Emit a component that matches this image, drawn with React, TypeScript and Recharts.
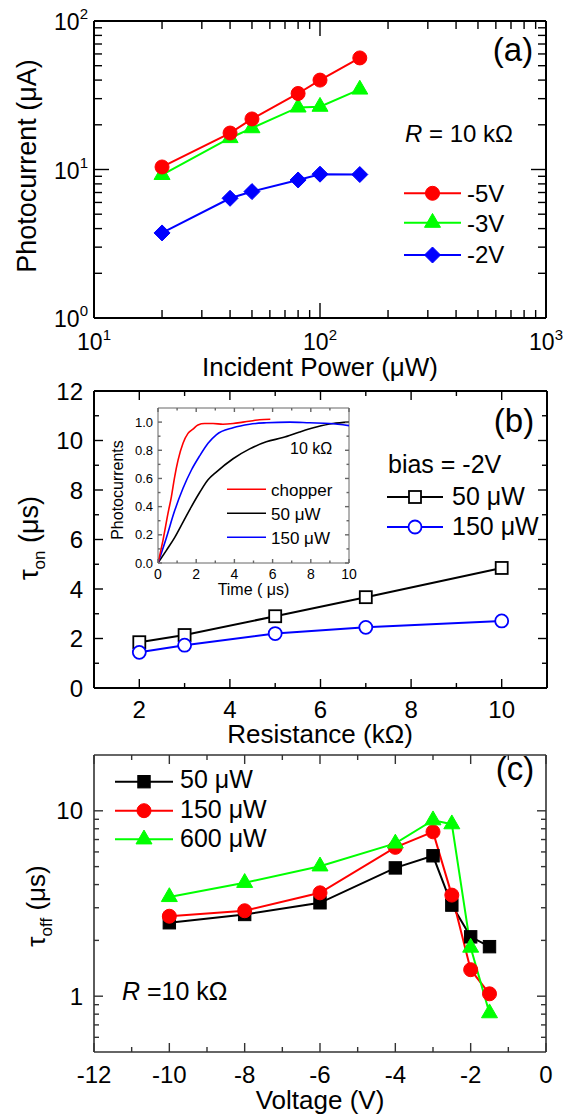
import React from 'react'
import { LineChart, Line, XAxis, YAxis, ReferenceDot, ReferenceLine } from 'recharts'

const FONT = '"Liberation Sans", Arial, Helvetica, sans-serif'
const RED = '#ff0000'
const GREEN = '#00ff00'
const BLUE = '#0000ff'

// (a) photocurrent (uA) vs incident power (uW), R = 10 kOhm
const power = [20, 40, 50, 80, 100, 150]
const i5V = [10.4, 17.6, 21.9, 32.5, 40, 56.4]
const i3V = [9.2, 16.3, 19, 26.2, 26.5, 34.6]
const i2V = [3.74, 6.4, 7.1, 8.5, 9.3, 9.25]
const powerMajor = [10, 100, 1000]
const powerMinor = [20, 30, 40, 50, 60, 70, 80, 90, 200, 300, 400, 500, 600, 700, 800, 900]
const currentMajor = [1, 10, 100]
const currentMinor = [2, 3, 4, 5, 6, 7, 8, 9, 20, 30, 40, 50, 60, 70, 80, 90]

// (b) tau_on (us) vs resistance (kOhm), bias = -2V
const resistance = [2, 3, 5, 7, 10]
const tauOn50 = [1.85, 2.14, 2.9, 3.67, 4.85]
const tauOn150 = [1.44, 1.73, 2.2, 2.45, 2.71]
const resMajor = [2, 4, 6, 8, 10]
const resMinor = [3, 5, 7, 9]
const tauOnMajor = [0, 2, 4, 6, 8, 10, 12]
const tauOnMinor = [1, 3, 5, 7, 9, 11]

// (b) inset: normalised photocurrents vs time (us)
const chopperT = [0, 0.26, 0.52, 0.7, 0.87, 1.05, 1.31, 1.57, 1.83, 2.09, 2.44, 2.88, 3.4, 3.93, 4.45, 4.97, 5.32, 5.88]
const chopperV = [0, 0.16, 0.35, 0.47, 0.61, 0.73, 0.85, 0.92, 0.95, 0.98, 0.99, 0.99, 0.985, 0.99, 1.0, 1.01, 1.017, 1.02]
const p150T = [0, 0.44, 0.87, 1.31, 1.75, 2.18, 2.62, 3.05, 3.93, 4.8, 5.67, 6.9, 7.94, 8.99, 10]
const p150V = [0, 0.18, 0.37, 0.53, 0.66, 0.76, 0.85, 0.91, 0.96, 0.985, 0.995, 1.0, 0.995, 0.99, 0.975]
const p50T = [0, 0.44, 0.87, 1.31, 1.75, 2.18, 2.62, 3.05, 3.93, 4.8, 5.67, 6.54, 7.42, 8.29, 9.16, 10]
const p50V = [0, 0.09, 0.18, 0.29, 0.4, 0.5, 0.59, 0.645, 0.74, 0.81, 0.86, 0.89, 0.93, 0.965, 0.99, 1.0]
const timeMajor = [0, 2, 4, 6, 8, 10]
const timeMinor = [1, 3, 5, 7, 9]
const normMajor = [0, 0.2, 0.4, 0.6, 0.8, 1.0]
const normMinor = [0.1, 0.3, 0.5, 0.7, 0.9]

// (c) tau_off (us) vs voltage (V), R = 10 kOhm
const voltage = [-10, -8, -6, -4, -3, -2.5, -2, -1.5]
const off50 = [2.49, 2.76, 3.19, 4.92, 5.72, 3.1, 2.09, 1.85]
const off150 = [2.7, 2.89, 3.61, 6.35, 7.7, 3.51, 1.39, 1.03]
const off600 = [3.43, 4.09, 5.02, 6.67, 8.9, 8.47, 1.83, 0.81]
const voltMajor = [-12, -10, -8, -6, -4, -2, 0]
const voltMinor = [-11, -9, -7, -5, -3, -1]
const tauOffMajor = [1, 10]
const tauOffMinor = [0.6, 0.7, 0.8, 0.9, 2, 3, 4, 5, 6, 7, 8, 9]

const rowsA = power.map((p, i) => ({ p, m5: i5V[i], m3: i3V[i], m2: i2V[i] }))
const rowsB = resistance.map((r, i) => ({ r, a: tauOn50[i], b: tauOn150[i] }))
const rowsC = voltage.map((v, i) => ({ v, a: off50[i], b: off150[i], c: off600[i] }))
const chopper = chopperT.map((t, i) => ({ t, v: chopperV[i] }))
const trace150 = p150T.map((t, i) => ({ t, v: p150V[i] }))
const trace50 = p50T.map((t, i) => ({ t, v: p50V[i] }))

type Kind = 'circle' | 'square' | 'tri' | 'diamond'

function Marker({ kind, cx, cy, s, color, open }: { kind: Kind; cx: number; cy: number; s: number; color: string; open?: boolean }) {
  const fill = open ? '#fff' : color
  const sw = open ? 1.8 : 1
  if (kind === 'circle') return <circle cx={cx} cy={cy} r={s} fill={fill} stroke={color} strokeWidth={sw} />
  if (kind === 'square') return <rect x={cx - s} y={cy - s} width={2 * s} height={2 * s} fill={fill} stroke={color} strokeWidth={sw} />
  if (kind === 'diamond')
    return <polygon points={`${cx},${cy - s} ${cx + s},${cy} ${cx},${cy + s} ${cx - s},${cy}`} fill={fill} stroke={color} strokeWidth={sw} />
  const h = s * 1.732
  return <polygon points={`${cx},${cy - (2 * h) / 3} ${cx + s},${cy + h / 3} ${cx - s},${cy + h / 3}`} fill={fill} stroke={color} strokeWidth={sw} />
}

const dot = (kind: Kind, s: number, color: string, open?: boolean) => (p: any) =>
  p.cx == null ? <g key={p.index} /> : <Marker key={p.index} kind={kind} cx={p.cx} cy={p.cy} s={s} color={color} open={open} />

const txt = { fontFamily: FONT, fill: '#000' }

type Lbl = (props: any) => React.ReactElement

const powBottom: Lbl = ({ x, y, payload }) => (
  <text x={x} y={y + 32} textAnchor="middle" fontSize={23} {...txt}>
    10<tspan dy={-10} fontSize={15}>{Math.round(Math.log10(payload.value))}</tspan>
  </text>
)
const powLeft: Lbl = ({ x, y, payload }) => (
  <text x={x - 6} y={y + 9} textAnchor="end" fontSize={23} {...txt}>
    10<tspan dy={-11} fontSize={15}>{Math.round(Math.log10(payload.value))}</tspan>
  </text>
)
const numBottom = (size: number, off: number): Lbl => ({ x, y, payload }) => (
  <text x={x} y={y + off} textAnchor="middle" fontSize={size} {...txt}>
    {payload.value}
  </text>
)
const numLeft = (size: number, off: number, fmt?: (v: number) => string): Lbl => ({ x, y, payload }) => (
  <text x={x - off} y={y + size * 0.36} textAnchor="end" fontSize={size} {...txt}>
    {fmt ? fmt(payload.value) : payload.value}
  </text>
)

interface FrameCfg {
  xKey: string
  xDomain: number[]
  xLog?: boolean
  xMajor: number[]
  xMinor: number[]
  xLabel: Lbl
  xHeight: number
  yDomain: number[]
  yLog?: boolean
  yMajor: number[]
  yMinor: number[]
  yLabel: Lbl
  yWidth: number
  majorLen: number
  minorLen: number
  color: string
  frameWidth: number
}

// labelled bottom/left axes; top/right edges of the box as reference lines
function frameAxes(c: FrameCfg) {
  const frame = { stroke: c.color, strokeWidth: c.frameWidth }
  const base = { type: 'number' as const, allowDataOverflow: true, interval: 0 as const, tickLine: false, tickSize: 0, tickMargin: 0, axisLine: frame }
  return [
    <XAxis key="x" xAxisId="x" dataKey={c.xKey} {...base} domain={c.xDomain} scale={c.xLog ? 'log' : 'linear'} ticks={c.xMajor} height={c.xHeight} tick={c.xLabel} />,
    <YAxis key="y" yAxisId="y" {...base} domain={c.yDomain} scale={c.yLog ? 'log' : 'linear'} ticks={c.yMajor} width={c.yWidth} tick={c.yLabel} />,
    <ReferenceLine key="top" xAxisId="x" yAxisId="y" y={c.yDomain[1]} stroke={c.color} strokeWidth={c.frameWidth} ifOverflow="visible" />,
    <ReferenceLine key="right" xAxisId="x" yAxisId="y" x={c.xDomain[1]} stroke={c.color} strokeWidth={c.frameWidth} ifOverflow="visible" />,
  ]
}

// inward tick marks on all four sides, placed through the chart's own scales
const tickShape = (dx: number, dy: number, color: string) => (p: any) =>
  <line x1={p.cx} y1={p.cy} x2={p.cx + dx} y2={p.cy + dy} stroke={color} strokeWidth={1.4} />

function frameTicks(c: FrameCfg) {
  const out: React.ReactElement[] = []
  const [x0, x1] = c.xDomain
  const [y0, y1] = c.yDomain
  const xs = [...c.xMajor.map((v) => [v, c.majorLen]), ...c.xMinor.map((v) => [v, c.minorLen])]
  const ys = [...c.yMajor.map((v) => [v, c.majorLen]), ...c.yMinor.map((v) => [v, c.minorLen])]
  xs.forEach(([v, len]) => {
    out.push(<ReferenceDot key={`b${v}`} xAxisId="x" yAxisId="y" x={v} y={y0} ifOverflow="visible" shape={tickShape(0, -len, c.color)} />)
    out.push(<ReferenceDot key={`t${v}`} xAxisId="x" yAxisId="y" x={v} y={y1} ifOverflow="visible" shape={tickShape(0, len, c.color)} />)
  })
  ys.forEach(([v, len]) => {
    out.push(<ReferenceDot key={`l${v}`} xAxisId="x" yAxisId="y" x={x0} y={v} ifOverflow="visible" shape={tickShape(len, 0, c.color)} />)
    out.push(<ReferenceDot key={`r${v}`} xAxisId="x" yAxisId="y" x={x1} y={v} ifOverflow="visible" shape={tickShape(-len, 0, c.color)} />)
  })
  return out
}

const series = { xAxisId: 'x', yAxisId: 'y', activeDot: false as const, isAnimationActive: false }

const frameA: FrameCfg = {
  xKey: 'p', xDomain: [10, 1000], xLog: true, xMajor: powerMajor, xMinor: powerMinor, xLabel: powBottom, xHeight: 62,
  yDomain: [1, 100], yLog: true, yMajor: currentMajor, yMinor: currentMinor, yLabel: powLeft, yWidth: 94,
  majorLen: 15, minorLen: 8, color: '#000', frameWidth: 2,
}
const frameB: FrameCfg = {
  xKey: 'r', xDomain: [1, 11], xMajor: resMajor, xMinor: resMinor, xLabel: numBottom(24, 30), xHeight: 57,
  yDomain: [0, 12], yMajor: tauOnMajor, yMinor: tauOnMinor, yLabel: numLeft(24, 11), yWidth: 94,
  majorLen: 9, minorLen: 5, color: '#000', frameWidth: 2,
}
const frameInset: FrameCfg = {
  xKey: 't', xDomain: [0, 10], xMajor: timeMajor, xMinor: timeMinor, xLabel: numBottom(14, 16), xHeight: 37,
  yDomain: [0, 1.1], yMajor: normMajor, yMinor: normMinor, yLabel: numLeft(13, 5, (v) => v.toFixed(1)), yWidth: 58,
  majorLen: 4, minorLen: 2.5, color: '#666', frameWidth: 1,
}
const frameC: FrameCfg = {
  xKey: 'v', xDomain: [-12, 0], xMajor: voltMajor, xMinor: voltMinor, xLabel: numBottom(24, 31), xHeight: 64,
  yDomain: [0.5, 20], yLog: true, yMajor: tauOffMajor, yMinor: tauOffMinor, yLabel: numLeft(24, 11), yWidth: 94,
  majorLen: 9, minorLen: 5, color: '#333', frameWidth: 1.6,
}

function PanelA() {
  return (
    <LineChart width={574} height={380} data={rowsA} margin={{ top: 21, right: 28, bottom: 0, left: 0 }}>
      {frameAxes(frameA)}
      {frameTicks(frameA)}
      <Line {...series} dataKey="m2" stroke={BLUE} strokeWidth={2} dot={dot('diamond', 8, BLUE)} />
      <Line {...series} dataKey="m3" stroke={GREEN} strokeWidth={2} dot={dot('tri', 8, GREEN)} />
      <Line {...series} dataKey="m5" stroke={RED} strokeWidth={2} dot={dot('circle', 7, RED)} />
    </LineChart>
  )
}

function PanelB() {
  return (
    <LineChart width={574} height={375} data={rowsB} margin={{ top: 21, right: 27, bottom: 0, left: 0 }}>
      {frameAxes(frameB)}
      {frameTicks(frameB)}
      <Line {...series} dataKey="a" stroke="#000" strokeWidth={2} dot={dot('square', 6, '#000', true)} />
      <Line {...series} dataKey="b" stroke={BLUE} strokeWidth={2} dot={dot('circle', 6.5, BLUE, true)} />
    </LineChart>
  )
}

function Inset() {
  return (
    <LineChart width={260} height={200} margin={{ top: 8, right: 11, bottom: 0, left: 0 }}>
      {frameAxes(frameInset)}
      {frameTicks(frameInset)}
      <Line {...series} data={trace50} dataKey="v" type="monotone" stroke="#000" strokeWidth={1.6} dot={false} />
      <Line {...series} data={trace150} dataKey="v" type="monotone" stroke={BLUE} strokeWidth={1.6} dot={false} />
      <Line {...series} data={chopper} dataKey="v" type="monotone" stroke={RED} strokeWidth={1.6} dot={false} />
    </LineChart>
  )
}

function PanelC() {
  return (
    <LineChart width={574} height={371} data={rowsC} margin={{ top: 10, right: 28, bottom: 0, left: 0 }}>
      {frameAxes(frameC)}
      {frameTicks(frameC)}
      <Line {...series} dataKey="a" stroke="#000" strokeWidth={2} dot={dot('square', 6.2, '#000')} />
      <Line {...series} dataKey="b" stroke={RED} strokeWidth={2} dot={dot('circle', 7, RED)} />
      <Line {...series} dataKey="c" stroke={GREEN} strokeWidth={2} dot={dot('tri', 8, GREEN)} />
    </LineChart>
  )
}

function LegendRow({ x1, x2, y, kind, s, color, open, label, tx, ty, size, sw = 2 }: any) {
  return (
    <g>
      <line x1={x1} y1={y} x2={x2} y2={y} stroke={color} strokeWidth={sw} />
      {kind ? <Marker kind={kind} cx={(x1 + x2) / 2} cy={y} s={s} color={color} open={open} /> : null}
      <text x={tx} y={ty} fontSize={size} {...txt}>
        {label}
      </text>
    </g>
  )
}

function Annotations() {
  return (
    <svg width={574} height={1116} style={{ position: 'absolute', left: 0, top: 0, pointerEvents: 'none' }}>
      {/* panel (a) */}
      <text x={513} y={61} textAnchor="middle" fontSize={33} {...txt}>(a)</text>
      <text x={405} y={141.5} fontSize={24} {...txt}>
        <tspan fontStyle="italic">R</tspan> = 10 kΩ
      </text>
      <LegendRow x1={404} x2={461} y={193.3} kind="circle" s={7} color={RED} label="-5V" tx={467} ty={201.7} size={24} />
      <LegendRow x1={404} x2={461} y={222.7} kind="tri" s={8} color={GREEN} label="-3V" tx={467} ty={231.5} size={24} />
      <LegendRow x1={404} x2={461} y={255} kind="diamond" s={8} color={BLUE} label="-2V" tx={467} ty={263.3} size={24} />
      <text transform="translate(36,166) rotate(-90)" textAnchor="middle" fontSize={27} {...txt}>
        Photocurrent (μA)
      </text>
      <text x={320} y={376} textAnchor="middle" fontSize={26} {...txt}>
        Incident Power (μW)
      </text>

      {/* panel (b) */}
      <text x={514} y={432} textAnchor="middle" fontSize={33} {...txt}>(b)</text>
      <text x={388} y={473} fontSize={25} {...txt}>bias = -2V</text>
      <LegendRow x1={387} x2={443} y={497} kind="square" s={6} color="#000" open label="50 μW" tx={452} ty={504.5} size={25} />
      <LegendRow x1={387} x2={443} y={527} kind="circle" s={6.5} color={BLUE} open label="150 μW" tx={452} ty={535} size={25} />
      <text transform="translate(38,538) rotate(-90)" textAnchor="middle" fontSize={27} {...txt}>
        τ<tspan dy={7} fontSize={17}>on</tspan>
        <tspan dy={-7}> (μs)</tspan>
      </text>
      <text x={320} y={743} textAnchor="middle" fontSize={26} {...txt}>
        Resistance (kΩ)
      </text>

      {/* inset */}
      <text x={290} y={454} fontSize={16} {...txt}>10 kΩ</text>
      <LegendRow x1={227} x2={266} y={489.3} color={RED} label="chopper" tx={271} ty={495.5} size={17} sw={1.6} />
      <LegendRow x1={227} x2={266} y={513.3} color="#000" label="50 μW" tx={271} ty={519.5} size={17} sw={1.6} />
      <LegendRow x1={227} x2={266} y={537.3} color={BLUE} label="150 μW" tx={271} ty={543.5} size={17} sw={1.6} />
      <text transform="translate(123,490) rotate(-90)" textAnchor="middle" fontSize={16} {...txt}>
        Photocurrents
      </text>
      <text x={253.5} y={595} textAnchor="middle" fontSize={16} {...txt}>
        Time ( μs)
      </text>

      {/* panel (c) */}
      <text x={515} y={780} textAnchor="middle" fontSize={33} {...txt}>(c)</text>
      <LegendRow x1={115} x2={173} y={781.7} kind="square" s={6.2} color="#000" label="50 μW" tx={180} ty={788} size={25} />
      <LegendRow x1={115} x2={173} y={810.7} kind="circle" s={7} color={RED} label="150 μW" tx={180} ty={818} size={25} />
      <LegendRow x1={115} x2={173} y={839.3} kind="tri" s={8} color={GREEN} label="600 μW" tx={180} ty={846.7} size={25} />
      <text x={122} y={1000} fontSize={25} {...txt}>
        <tspan fontStyle="italic">R</tspan> =10 kΩ
      </text>
      <text transform="translate(45,906) rotate(-90)" textAnchor="middle" fontSize={26} {...txt}>
        τ<tspan dy={7} fontSize={17}>off</tspan>
        <tspan dy={-7}> (μs)</tspan>
      </text>
      <text x={320} y={1109} textAnchor="middle" fontSize={26} {...txt}>
        Voltage (V)
      </text>
    </svg>
  )
}

export default function App() {
  return (
    <div style={{ position: 'absolute', left: 0, top: 0, width: 574, height: 1116, background: '#fff', fontFamily: FONT }}>
      <div style={{ position: 'absolute', left: 0, top: 0 }}>
        <PanelA />
      </div>
      <div style={{ position: 'absolute', left: 0, top: 370 }}>
        <PanelB />
      </div>
      <div style={{ position: 'absolute', left: 100, top: 400 }}>
        <Inset />
      </div>
      <div style={{ position: 'absolute', left: 0, top: 745 }}>
        <PanelC />
      </div>
      <Annotations />
    </div>
  )
}
